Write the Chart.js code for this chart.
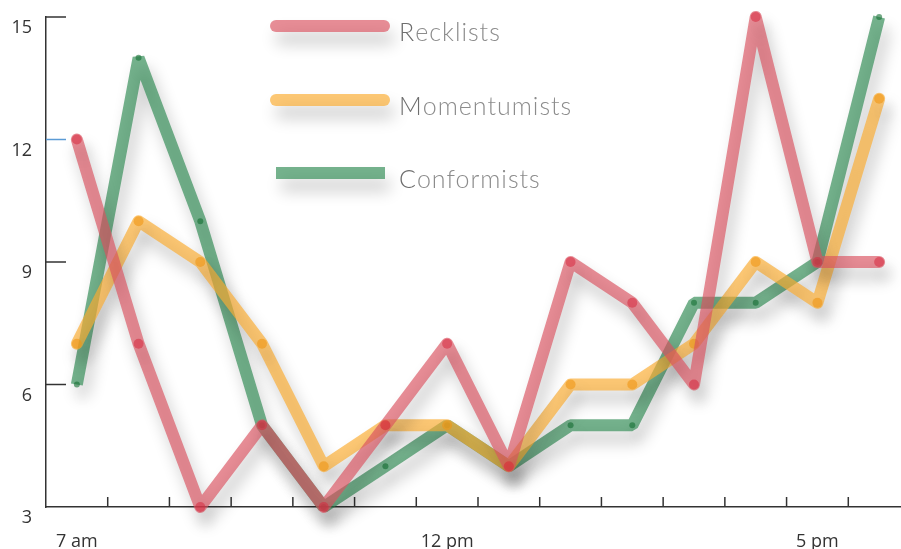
<!DOCTYPE html>
<html>
<head>
<meta charset="utf-8">
<script src="https://cdn.jsdelivr.net/npm/chart.js@4"></script>
<style>
  html, body { margin: 0; padding: 0; background: #fff; overflow: hidden; width: 901px; height: 549px; }
  #wrap { position: absolute; left: 0; top: 0; width: 930px; height: 549px; }
</style>
</head>
<body>
<div id="wrap"><canvas id="c" width="930" height="549"></canvas></div>
<script>
// Observation slots through the day (every 50 minutes)
const slots = ['7:00', '7:50', '8:40', '9:30', '10:20', '11:10', '12:00',
               '12:50', '13:40', '14:30', '15:20', '16:10', '17:00', '17:50'];
const tickLabels = ['7 am', '', '', '', '', '', '12 pm', '', '', '', '', '', '5 pm', ''];

const recklists    = [12, 7, 3, 5, 3, 5, 7, 4, 9, 8, 6, 15, 9, 9];
const momentumists = [7, 10, 9, 7, 4, 5, 5, 4, 6, 6, 7, 9, 8, 13];
const conformists  = [6, 14, 10, 5, 3, 4, 5, 4, 5, 5, 8, 8, 9, 15];

const seriesNames = ['Recklists', 'Momentumists', 'Conformists'];
const yTicks = [3, 6, 9, 12, 15];

const lineColors  = ['rgba(218,82,95,0.66)', 'rgba(250,172,50,0.68)', 'rgba(45,138,82,0.66)'];
const pointColors = ['rgba(215,40,62,0.55)', 'rgba(240,150,20,0.6)', 'rgba(20,110,50,0.6)'];
const AXIS = '#333';

function setShadow(ctx) {
  ctx.shadowColor = 'rgba(0,0,0,0.3)';
  ctx.shadowBlur = 16;
  ctx.shadowOffsetX = 5;
  ctx.shadowOffsetY = 12;
}

// soft drop shadow under every series line
const shadowPlugin = {
  id: 'lineShadow',
  beforeDatasetDraw(chart) { chart.ctx.save(); setShadow(chart.ctx); },
  afterDatasetDraw(chart) { chart.ctx.restore(); }
};

// short inward tick marks on both axes
const tickMarks = {
  id: 'tickMarks',
  beforeDatasetsDraw(chart) {
    const { ctx, scales: { x, y }, chartArea } = chart;
    ctx.save();
    ctx.strokeStyle = AXIS;
    ctx.lineWidth = 1.5;
    for (let i = 0; i < slots.length - 1; i++) {
      const px = (x.getPixelForValue(i) + x.getPixelForValue(i + 1)) / 2;
      ctx.beginPath();
      ctx.moveTo(px, chartArea.bottom);
      ctx.lineTo(px, chartArea.bottom - 10);
      ctx.stroke();
    }
    yTicks.forEach(v => {
      if (v === yTicks[0]) return;
      const py = y.getPixelForValue(v);
      ctx.strokeStyle = v === 12 ? '#5b9bd5' : AXIS;
      ctx.beginPath();
      ctx.moveTo(chartArea.left, py);
      ctx.lineTo(chartArea.left + 20, py);
      ctx.stroke();
    });
    ctx.restore();
  }
};

// stacked legend with long stroke swatches
const stackedLegend = {
  id: 'stackedLegend',
  afterDatasetsDraw(chart) {
    const ctx = chart.ctx;
    const rows = [26, 100, 173];
    chart.data.datasets.forEach((ds, i) => {
      const yy = rows[i];
      ctx.save();
      setShadow(ctx);
      ctx.strokeStyle = ds.borderColor;
      ctx.lineWidth = 12;
      ctx.lineCap = ds.borderCapStyle;
      ctx.beginPath();
      ctx.moveTo(276, yy);
      ctx.lineTo(ds.borderCapStyle === 'butt' ? 385 : 384, yy);
      ctx.stroke();
      ctx.restore();

      ctx.save();
      ctx.font = '300 25px Lato';
      ctx.letterSpacing = '1px';
      ctx.textBaseline = 'middle';
      const label = ds.label;
      ctx.fillStyle = '#6e6e6e';
      ctx.fillText(label[0], 399, yy + 7);
      const w = ctx.measureText(label[0]).width;
      ctx.fillStyle = '#8c8c8c';
      ctx.fillText(label.slice(1), 399 + w, yy + 7);
      ctx.restore();
    });
  }
};

function makeSet(i, data, cap, join) {
  return {
    label: seriesNames[i],
    data: data,
    borderColor: lineColors[i],
    borderWidth: 12,
    borderCapStyle: cap,
    borderJoinStyle: join,
    pointRadius: i === 2 ? 3 : 5,
    pointBackgroundColor: pointColors[i],
    pointBorderWidth: 0,
    pointHoverRadius: 5,
    tension: 0,
    clip: false,
    fill: false
  };
}

new Chart(document.getElementById('c'), {
  type: 'line',
  data: {
    labels: slots,
    datasets: [
      makeSet(0, recklists, 'round', 'round'),
      makeSet(1, momentumists, 'round', 'round'),
      makeSet(2, conformists, 'butt', 'bevel')
    ]
  },
  options: {
    responsive: false,
    animation: false,
    events: [],
    layout: { padding: { top: 17, right: 20, left: 0, bottom: 0 } },
    plugins: { legend: { display: false }, tooltip: { enabled: false } },
    scales: {
      x: {
        type: 'category',
        offset: true,
        afterFit(s) { s.height = 42; s.paddingLeft = 0; s.paddingRight = 0; },
        grid: { display: true, drawOnChartArea: false, drawTicks: false },
        border: { display: true, color: AXIS, width: 1.5 },
        ticks: {
          autoSkip: false,
          maxRotation: 0,
          padding: 24,
          color: '#333',
          font: { family: 'Open Sans', size: 18 },
          callback: (v, i) => tickLabels[i]
        }
      },
      y: {
        min: 3,
        max: 15,
        afterFit(s) { s.width = 46; s.paddingTop = 0; s.paddingBottom = 0; },
        afterBuildTicks(s) { s.ticks = yTicks.map(v => ({ value: v })); },
        grid: { display: true, drawOnChartArea: false, drawTicks: false },
        border: { display: true, color: AXIS, width: 1.5 },
        ticks: {
          padding: 14,
          labelOffset: 11,
          color: '#333',
          font: { family: 'Open Sans', size: 18 }
        }
      }
    }
  },
  plugins: [shadowPlugin, tickMarks, stackedLegend]
});
</script>
</body>
</html>
